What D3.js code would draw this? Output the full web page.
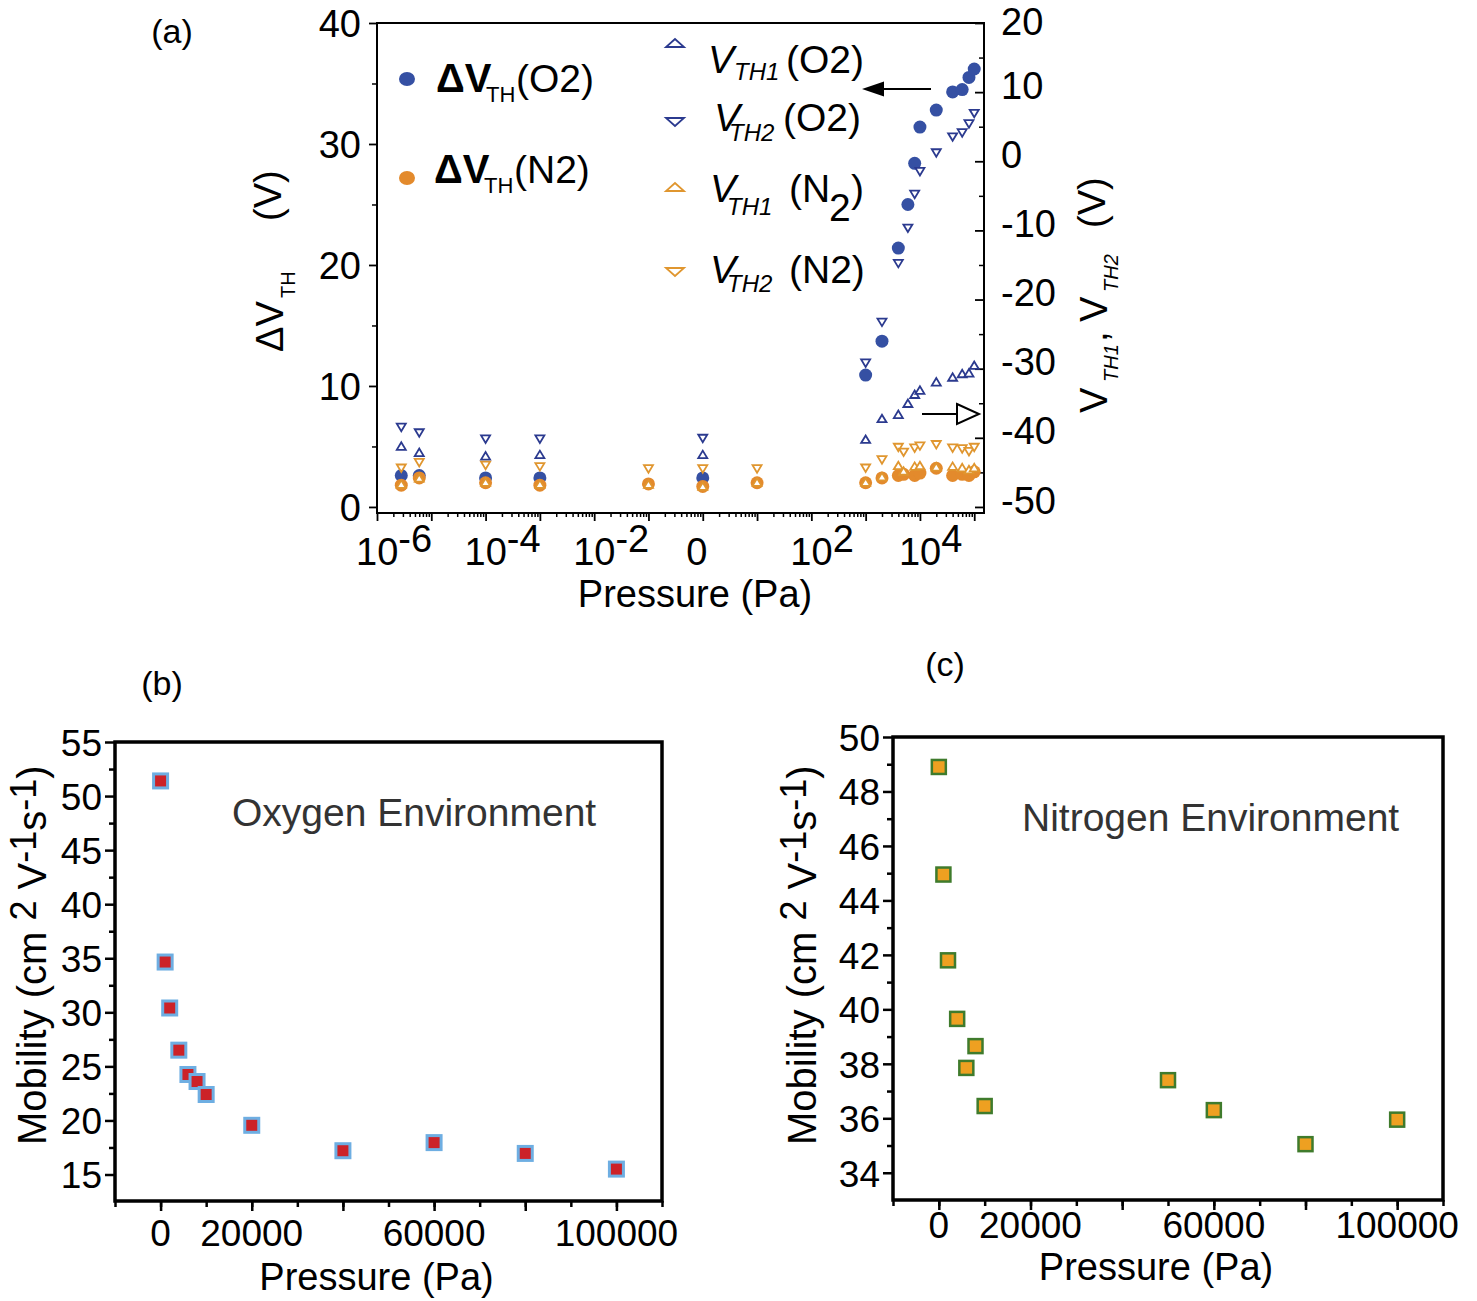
<!DOCTYPE html>
<html>
<head>
<meta charset="utf-8">
<script src="https://cdn.jsdelivr.net/npm/d3@7"></script>
<style>
body { margin: 0; background: #fff; }
text { font-family: "Liberation Sans", Arial, sans-serif; fill: #000; }
</style>
</head>
<body>
<script>
// ---- panel (a): threshold voltage vs pressure (Pa) ----
var pO2 = [2.8e-6, 6e-6, 1e-4, 1e-3, 1, 1000, 2000, 4000, 6000, 8000, 10000, 20000, 40000, 60000, 80000, 100000];
var dVthO2 = [2.6, 2.6, 2.4, 2.4, 2.4, 10.9, 13.7, 21.4, 25.0, 28.4, 31.4, 32.8, 34.3, 34.5, 35.5, 36.2];
var vth1O2 = [-41.2, -42.1, -42.6, -42.4, -42.4, -40.2, -37.2, -36.6, -35.0, -33.7, -33.1, -31.9, -31.2, -30.7, -30.6, -29.5];
var vth2O2 = [-38.5, -39.3, -40.2, -40.2, -40.1, -29.2, -23.3, -14.8, -9.7, -4.8, -1.5, 1.2, 3.5, 4.1, 5.4, 6.9];

var pN2 = [2.8e-6, 6e-6, 1e-4, 1e-3, 0.1, 1, 10, 1000, 2000, 4000, 5000, 8000, 10000, 20000, 40000, 60000, 80000, 100000];
var dVthN2 = [1.8, 2.4, 2.0, 1.8, 1.9, 1.7, 2.0, 2.0, 2.4, 2.6, 2.7, 2.6, 2.8, 3.2, 2.6, 2.7, 2.6, 2.9];
var vth1N2 = [-46.7, -45.8, -46.4, -46.7, -46.7, -47.0, -46.4, -46.4, -45.6, -44.0, -44.8, -44.1, -44.0, -44.2, -44.1, -44.3, -44.6, -44.3];
var vth2N2 = [-44.4, -43.6, -44.0, -44.2, -44.5, -44.5, -44.5, -44.4, -43.2, -41.4, -42.1, -41.5, -41.2, -41.0, -41.5, -41.6, -42.0, -41.4];

var xTickExpA = [-6, -4, -2, 0, 2, 4];
var yTicksLeftA = [0, 10, 20, 30, 40];
var yTicksRightA = [-50, -40, -30, -20, -10, 0, 10, 20];

// ---- panel (b): mobility in oxygen ----
var pMobO2 = [0, 1000, 2000, 4000, 6000, 8000, 10000, 20000, 40000, 60000, 80000, 100000];
var mobO2 = [51.4, 34.65, 30.4, 26.5, 24.25, 23.6, 22.4, 19.55, 17.2, 17.95, 16.95, 15.5];
var yTicksB = [15, 20, 25, 30, 35, 40, 45, 50, 55];

// ---- panel (c): mobility in nitrogen ----
var pMobN2 = [0, 1000, 2000, 4000, 6000, 8000, 10000, 50000, 60000, 80000, 100000];
var mobN2 = [48.9, 44.95, 41.8, 39.65, 37.85, 38.65, 36.45, 37.4, 36.3, 35.05, 35.95];
var yTicksC = [34, 36, 38, 40, 42, 44, 46, 48, 50];

var xLabelsBC = [0, 20000, 60000, 100000];

var blue = "#3550a3", navy = "#2b3a8f", orange = "#e38a2c", orangeTri = "#e0962f";

var svg = d3.select("body").append("svg")
    .attr("width", 1477).attr("height", 1301);
svg.append("rect").attr("width", 1477).attr("height", 1301).attr("fill", "#fff");

function styleAxis(g, sw) {
  g.select(".domain").remove();
  g.selectAll(".tick line").attr("stroke", "#000").attr("stroke-width", sw);
}

// text made of pieces, each piece with its own position / size / style
function richText(parent, pieces, transform) {
  var t = parent.append("text");
  if (transform) t.attr("transform", transform);
  pieces.forEach(function(p) {
    t.append("tspan")
     .attr("x", p.x).attr("y", p.y)
     .style("font-size", p.size + "px")
     .style("font-style", p.italic ? "italic" : "normal")
     .style("font-weight", p.bold ? "bold" : "normal")
     .text(p.t);
  });
  return t;
}

function triPath(cx, cy, w, h, up) {
  var s = up ? -1 : 1;
  return "M" + (cx - w / 2) + "," + (cy - s * h / 2) + "L" + (cx + w / 2) + "," + (cy - s * h / 2) +
         "L" + cx + "," + (cy + s * h / 2) + "Z";
}

// ================= panel (a) =================
var xA = d3.scaleLog().domain([1e-6, Math.pow(10, 5.18)]).range([377, 984]);
var yL = d3.scaleLinear().domain([-0.5, 40]).range([513, 23]);
var yR = d3.scaleLinear().domain([-50.875, 20]).range([513, 23]);

var gA = svg.append("g");

var minorX = [], majorX = [];
for (var e = -6; e <= 5; e++) {
  majorX.push(Math.pow(10, e));
  for (var m = 2; m <= 9; m++) {
    var v = m * Math.pow(10, e);
    if (v <= xA.domain()[1]) minorX.push(v);
  }
}

var gxMinor = gA.append("g").attr("transform", "translate(0,513)")
  .call(d3.axisBottom(xA).tickValues(minorX).tickSize(4).tickFormat(""));
styleAxis(gxMinor, 1.5);
var gxMajor = gA.append("g").attr("transform", "translate(0,513)")
  .call(d3.axisBottom(xA).tickValues(majorX).tickSize(8).tickFormat(""));
styleAxis(gxMajor, 1.8);

xTickExpA.forEach(function(ex) {
  var x = xA(Math.pow(10, ex));
  if (ex === 0) {
    gA.append("text").attr("x", x - 6).attr("y", 565).attr("text-anchor", "middle")
      .style("font-size", "38px").text("0");
  } else {
    var t = gA.append("text").attr("x", x - 21).attr("y", 565).style("font-size", "38px");
    t.append("tspan").text("10");
    t.append("tspan").attr("dy", -13).text(String(ex));
  }
});

var gyL = gA.append("g").attr("transform", "translate(377,0)")
  .call(d3.axisLeft(yL).tickValues(yTicksLeftA).tickSize(8).tickPadding(8).tickFormat(function(d) { return String(d); }));
styleAxis(gyL, 1.8);
gyL.selectAll("text").style("font-size", "38px").attr("dy", "0.36em");
var gyLm = gA.append("g").attr("transform", "translate(377,0)")
  .call(d3.axisLeft(yL).tickValues([5, 15, 25, 35]).tickSize(5).tickFormat(""));
styleAxis(gyLm, 1.5);

var gyR = gA.append("g").attr("transform", "translate(984,0)")
  .call(d3.axisRight(yR).tickValues(yTicksRightA).tickSize(-9).tickPadding(17).tickFormat(function(d) { return String(d); }));
styleAxis(gyR, 1.8);
gyR.selectAll("text").style("font-size", "38px")
  .attr("dy", function(d) { return d === 20 ? "0.3em" : "0.16em"; });
var gyRm = gA.append("g").attr("transform", "translate(984,0)")
  .call(d3.axisRight(yR).tickValues([-45, -35, -25, -15, -5, 5, 15]).tickSize(-5).tickFormat(""));
styleAxis(gyRm, 1.5);

gA.append("rect").attr("x", 377).attr("y", 23).attr("width", 607).attr("height", 490)
  .attr("fill", "none").attr("stroke", "#000").attr("stroke-width", 2);

// markers: circles first, triangles on top
function dots(xs, ys, col) {
  gA.append("g").selectAll("circle").data(xs).join("circle")
    .attr("cx", function(d) { return xA(d); })
    .attr("cy", function(d, i) { return yL(ys[i]); })
    .attr("r", 6.5).attr("fill", col);
}
function tris(xs, ys, col, up) {
  gA.append("g").selectAll("path").data(xs).join("path")
    .attr("d", function(d, i) { return triPath(xA(d), yR(ys[i]), 9, 7.5, up); })
    .attr("fill", "#fff").attr("stroke", col).attr("stroke-width", 1.8);
}
dots(pO2, dVthO2, blue);
dots(pN2, dVthN2, orange);
tris(pO2, vth1O2, navy, true);
tris(pO2, vth2O2, navy, false);
tris(pN2, vth1N2, orangeTri, true);
tris(pN2, vth2N2, orangeTri, false);

// arrows
gA.append("line").attr("x1", 931).attr("y1", 89).attr("x2", 882).attr("y2", 89)
  .attr("stroke", "#000").attr("stroke-width", 2);
gA.append("path").attr("d", "M862,89L884,81.5L884,96.5Z").attr("fill", "#000");
gA.append("line").attr("x1", 922).attr("y1", 414).attr("x2", 957).attr("y2", 414)
  .attr("stroke", "#000").attr("stroke-width", 2);
gA.append("path").attr("d", "M957,404L979,414L957,424Z").attr("fill", "#fff")
  .attr("stroke", "#000").attr("stroke-width", 2);

// legend
gA.append("ellipse").attr("cx", 407).attr("cy", 79).attr("rx", 8).attr("ry", 7).attr("fill", blue);
gA.append("ellipse").attr("cx", 407).attr("cy", 178).attr("rx", 8).attr("ry", 7).attr("fill", orange);
richText(gA, [
  { t: "ΔV", x: 436, y: 92, size: 40, bold: true },
  { t: "TH", x: 486, y: 102, size: 22 },
  { t: "(O2)", x: 516, y: 92, size: 39 }
]);
richText(gA, [
  { t: "ΔV", x: 434, y: 183, size: 40, bold: true },
  { t: "TH", x: 484, y: 193, size: 22 },
  { t: "(N2)", x: 514, y: 183, size: 39 }
]);
gA.append("path").attr("d", triPath(675, 43, 18, 8, true)).attr("fill", "#fff").attr("stroke", navy).attr("stroke-width", 1.8);
gA.append("path").attr("d", triPath(675, 122, 18, 8, false)).attr("fill", "#fff").attr("stroke", navy).attr("stroke-width", 1.8);
gA.append("path").attr("d", triPath(675, 187, 18, 8, true)).attr("fill", "#fff").attr("stroke", orangeTri).attr("stroke-width", 1.8);
gA.append("path").attr("d", triPath(675, 272, 18, 8, false)).attr("fill", "#fff").attr("stroke", orangeTri).attr("stroke-width", 1.8);
richText(gA, [
  { t: "V", x: 708, y: 73, size: 39, italic: true },
  { t: "TH1", x: 734, y: 80, size: 24, italic: true },
  { t: "(O2)", x: 786, y: 73, size: 39 }
]);
richText(gA, [
  { t: "V", x: 714, y: 131, size: 39, italic: true },
  { t: "TH2", x: 729, y: 141, size: 24, italic: true },
  { t: "(O2)", x: 783, y: 131, size: 39 }
]);
richText(gA, [
  { t: "V", x: 710, y: 202, size: 39, italic: true },
  { t: "TH1", x: 727, y: 215, size: 24, italic: true },
  { t: "(N", x: 789, y: 202, size: 39 },
  { t: "2", x: 829, y: 221, size: 39 },
  { t: ")", x: 851, y: 202, size: 39 }
]);
richText(gA, [
  { t: "V", x: 710, y: 283, size: 39, italic: true },
  { t: "TH2", x: 727, y: 292, size: 24, italic: true },
  { t: "(N2)", x: 789, y: 283, size: 39 }
]);

// axis titles
gA.append("text").attr("x", 172).attr("y", 43).attr("text-anchor", "middle").style("font-size", "34px").text("(a)");
gA.append("text").attr("x", 695).attr("y", 607).attr("text-anchor", "middle").style("font-size", "38px").text("Pressure (Pa)");
richText(gA, [
  { t: "ΔV", x: -352, y: 283, size: 38 },
  { t: "TH", x: -298, y: 295, size: 20 },
  { t: "(V)", x: -221, y: 281, size: 38 }
], "rotate(-90)");
richText(gA, [
  { t: "V", x: -413, y: 1107, size: 38 },
  { t: "TH1", x: -382, y: 1118, size: 20, italic: true },
  { t: ",", x: -342, y: 1107, size: 38 },
  { t: "V", x: -322, y: 1107, size: 38 },
  { t: "TH2", x: -292, y: 1118, size: 20, italic: true },
  { t: "(V)", x: -228, y: 1105, size: 38 }
], "rotate(-90)");

// ================= panels (b) and (c) =================
function mobilityPanel(opt) {
  var g = svg.append("g");
  var x = d3.scaleLinear().domain([-10000, 110000]).range([opt.x0, opt.x1]);
  var y = d3.scaleLinear().domain(opt.yDomain).range([opt.yBottom, opt.yTop]);

  var gxm = g.append("g").attr("transform", "translate(0," + opt.yBottom + ")")
    .call(d3.axisBottom(x).tickValues(d3.range(-10000, 110001, 10000)).tickSize(6).tickFormat(""));
  styleAxis(gxm, 2.5);
  var gx = g.append("g").attr("transform", "translate(0," + opt.yBottom + ")")
    .call(d3.axisBottom(x).tickValues(d3.range(0, 100001, 20000)).tickSize(10).tickFormat(""));
  styleAxis(gx, 2.5);
  xLabelsBC.forEach(function(v) {
    g.append("text").attr("x", x(v)).attr("y", opt.xLabelY).attr("text-anchor", "middle")
      .style("font-size", "37px").text(String(v));
  });

  var gym = g.append("g").attr("transform", "translate(" + opt.x0 + ",0)")
    .call(d3.axisLeft(y).tickValues(opt.yMinor).tickSize(6).tickFormat(""));
  styleAxis(gym, 2.5);
  var gy = g.append("g").attr("transform", "translate(" + opt.x0 + ",0)")
    .call(d3.axisLeft(y).tickValues(opt.yTicks).tickSize(10).tickPadding(3).tickFormat(function(d) { return String(d); }));
  styleAxis(gy, 2.5);
  gy.selectAll("text").style("font-size", "37px").attr("dy", "0.36em");

  g.append("rect").attr("x", opt.x0).attr("y", opt.yTop)
    .attr("width", opt.x1 - opt.x0).attr("height", opt.yBottom - opt.yTop)
    .attr("fill", "none").attr("stroke", "#000").attr("stroke-width", 3.5);

  g.append("g").selectAll("rect").data(opt.px).join("rect")
    .attr("x", function(d) { return x(d) - 7; })
    .attr("y", function(d, i) { return y(opt.py[i]) - 7; })
    .attr("width", 14).attr("height", 14)
    .attr("fill", opt.fill).attr("stroke", opt.stroke).attr("stroke-width", opt.sw);

  g.append("text").attr("x", opt.noteX).attr("y", opt.noteY).style("font-size", "39px")
    .style("fill", "#333").text(opt.note);
  g.append("text").attr("x", opt.tagX).attr("y", opt.tagY).attr("text-anchor", "middle")
    .style("font-size", "34px").text(opt.tag);
  g.append("text").attr("x", (opt.x0 + opt.x1) / 2 - 12).attr("y", opt.xTitleY).attr("text-anchor", "middle")
    .style("font-size", "38px").text("Pressure (Pa)");

  var t = g.append("text").attr("transform", "rotate(-90)")
    .attr("x", -opt.yTitleStart).attr("y", opt.yTitleX).style("font-size", "40px");
  t.append("tspan").text("Mobility (cm ");
  t.append("tspan").attr("dy", -10).style("font-size", "36px").text("2");
  t.append("tspan").attr("dy", 10).text(" V");
  t.append("tspan").attr("dy", -10).style("font-size", "36px").text("-1");
  t.append("tspan").attr("dy", 10).text("s");
  t.append("tspan").attr("dy", -10).style("font-size", "36px").text("-1");
  t.append("tspan").attr("dy", 10).text(")");
}

mobilityPanel({
  x0: 115, x1: 662, yTop: 742, yBottom: 1201, yDomain: [12.55, 55],
  yTicks: yTicksB, yMinor: [17.5, 22.5, 27.5, 32.5, 37.5, 42.5, 47.5, 52.5],
  px: pMobO2, py: mobO2, fill: "#cc2228", stroke: "#6eaee2", sw: 3,
  xLabelY: 1246, xTitleY: 1290, yTitleX: 46, yTitleStart: 1145,
  note: "Oxygen Environment", noteX: 232, noteY: 826,
  tag: "(b)", tagX: 162, tagY: 695
});

mobilityPanel({
  x0: 893, x1: 1443, yTop: 737, yBottom: 1200, yDomain: [33, 50],
  yTicks: yTicksC, yMinor: [35, 37, 39, 41, 43, 45, 47, 49],
  px: pMobN2, py: mobN2, fill: "#eea021", stroke: "#3f7b2c", sw: 2.5,
  xLabelY: 1238, xTitleY: 1280, yTitleX: 816, yTitleStart: 1145,
  note: "Nitrogen Environment", noteX: 1022, noteY: 831,
  tag: "(c)", tagX: 945, tagY: 676
});
</script>
</body>
</html>
